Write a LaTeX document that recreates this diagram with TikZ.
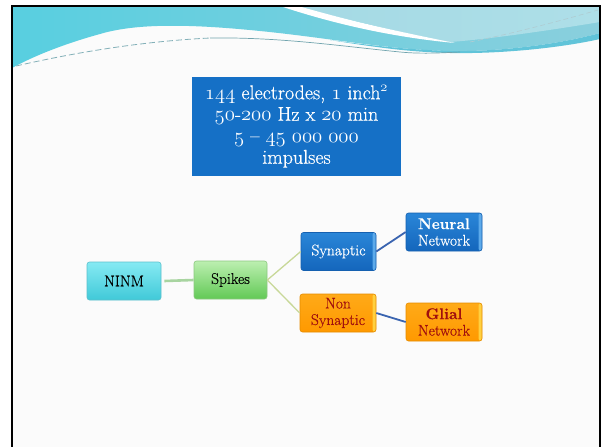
\documentclass[tikz,border=0pt]{standalone}
\usepackage{fontspec}
\setmainfont{Latin Modern Roman}[FakeBold=0.45]
\usetikzlibrary{calc}

\definecolor{waveA}{HTML}{58CFE0}
\definecolor{waveB}{HTML}{7CC3D6}
\definecolor{waveC}{HTML}{8ACFDD}
\definecolor{waveLight}{HTML}{AEDFE8}
\definecolor{waveTeal}{HTML}{45BAD2}
\definecolor{dashTeal}{HTML}{4E8E9A}
\definecolor{infoBlue}{HTML}{1570C6}
\definecolor{blueTop}{HTML}{2A86D8}
\definecolor{blueBot}{HTML}{1466BC}
\definecolor{blueEdge}{HTML}{1560B0}
\definecolor{blueStrip}{HTML}{5DAAEA}
\definecolor{orTop}{HTML}{FFAA18}
\definecolor{orBot}{HTML}{FF9900}
\definecolor{orEdge}{HTML}{E58C00}
\definecolor{orStrip}{HTML}{FFD040}
\definecolor{darkRed}{HTML}{A00E0E}
\definecolor{cyTop}{HTML}{86EAF3}
\definecolor{cyBot}{HTML}{40C9D8}
\definecolor{cyEdge}{HTML}{5CC0CC}
\definecolor{grTop}{HTML}{BCEFB0}
\definecolor{grBot}{HTML}{62C956}
\definecolor{grEdge}{HTML}{8CC880}
\definecolor{linkGreen}{HTML}{A8D4A0}
\definecolor{linkOlive}{HTML}{C8D898}
\definecolor{linkBlue}{HTML}{3A64B0}

% old-style figures from the math italic font
\newcommand\osf[1]{{\usefont{OML}{cmm}{m}{it}#1}}

\tikzset{
  boxbase/.style={rounded corners=2.5pt, minimum width=75pt, minimum height=38pt,
    align=center, inner sep=1pt, line width=0.6pt,
    font=\fontsize{15.5}{16.5}\selectfont},
  strip/.style={path picture={\fill[#1]
      ([xshift=-3.5pt]path picture bounding box.north east)
      rectangle (path picture bounding box.south east);}},
  bluebox/.style={boxbase, top color=blueTop, bottom color=blueBot, draw=blueEdge,
    strip=blueStrip, text=white},
  orangebox/.style={boxbase, top color=orTop, bottom color=orBot, draw=orEdge,
    strip=orStrip, text=darkRed},
  cyanbox/.style={boxbase, top color=cyTop, bottom color=cyBot, draw=cyEdge, text=black},
  greenbox/.style={boxbase, top color=grTop, bottom color=grBot, draw=grEdge, text=black},
  infobox/.style={fill=infoBlue, text=white, minimum width=209pt, minimum height=99pt,
    align=center, inner sep=2pt, font=\fontsize{20}{21.5}\selectfont},
  trunk/.style={draw=linkGreen, line width=2.6pt},
  branch/.style={draw=linkOlive, line width=1.3pt},
  leaf/.style={draw=linkBlue, line width=1.8pt},
}

\begin{document}
\begin{tikzpicture}[x=1pt,y=-1pt]
\useasboundingbox (0,0) rectangle (605,447);
\fill[white] (0,0) rectangle (605,447);
% slide area
\fill[black!1.5] (12,6) rectangle (600,447);

% header wave
\shade[left color=waveA, middle color=waveB, right color=waveC]
  (12,6) -- (600,6) -- (600,33)
  .. controls (560,44) and (500,52) .. (450,51)
  .. controls (390,50) and (330,38) .. (260,31)
  .. controls (200,25) and (140,22) .. (100,34)
  .. controls (60,45) and (30,58) .. (12,68) -- cycle;
\shade[left color=waveLight!80!waveB, right color=waveLight]
  (290,6) -- (600,6) -- (600,22)
  .. controls (540,32) and (480,40) .. (450,42)
  .. controls (420,38) and (380,26) .. (290,6) -- cycle;
% white streak
\fill[white]
  (280,6) -- (298,6)
  .. controls (340,18) and (380,28) .. (455,43)
  .. controls (400,38) and (340,26) .. (280,6) -- cycle;
% bright lower edge of the wave
\fill[waveTeal!85]
  (330,40) .. controls (390,48) and (420,50) .. (450,51)
  .. controls (500,52) and (560,44) .. (600,33) -- (600,39)
  .. controls (560,48) and (500,54) .. (450,53)
  .. controls (410,52) and (380,48) .. (330,40) -- cycle;
% fine dashed swooshes
\draw[dashTeal!70, line width=0.8pt, dash pattern=on 6pt off 3pt]
  (16,66) .. controls (60,56) and (130,42) .. (210,38);
\draw[dashTeal!80, line width=0.7pt]
  (210,38) .. controls (280,37) and (340,46) .. (400,52)
  .. controls (420,54) and (440,53) .. (460,52);
\draw[dashTeal!45, line width=0.6pt, dash pattern=on 5pt off 3pt]
  (470,42) .. controls (520,32) and (570,18) .. (598,10);

% slide frame
\draw[black, line width=2.4pt] (12,447) -- (12,6) -- (600,6) -- (600,447);

% summary box
\node[infobox] (info) at (296.5,126.5)
  {\osf{144} electrodes, \osf{1} inch\textsuperscript{\osf{2}}\\
   \osf{50}-\osf{200} Hz x \osf{20} min\\
   \osf{5} -- \osf{45} \osf{000} \osf{000}\\
   impulses};

% diagram nodes
\node[cyanbox, minimum width=74pt] (ninm) at (124,281) {NINM};
\node[greenbox, minimum width=73pt] (spikes) at (230.5,280) {Spikes};
\node[bluebox] (syn) at (338.5,251.5) {Synaptic};
\node[orangebox, minimum width=76pt] (nonsyn) at (338,313) {Non\\Synaptic};
\node[bluebox, minimum width=76pt] (neural) at (444,232) {\textbf{Neural}\\Network};
\node[orangebox, minimum width=76pt] (glial) at (444,322) {\textbf{Glial}\\Network};

% connectors
\draw[trunk] ([xshift=3pt]ninm.east) -- (spikes.west);
\draw[branch] (spikes.east) -- (syn.west);
\draw[branch] (spikes.east) -- (nonsyn.west);
\draw[leaf] (syn.east) -- (neural.west);
\draw[leaf] (nonsyn.east) -- (glial.west);
\end{tikzpicture}
\end{document}
